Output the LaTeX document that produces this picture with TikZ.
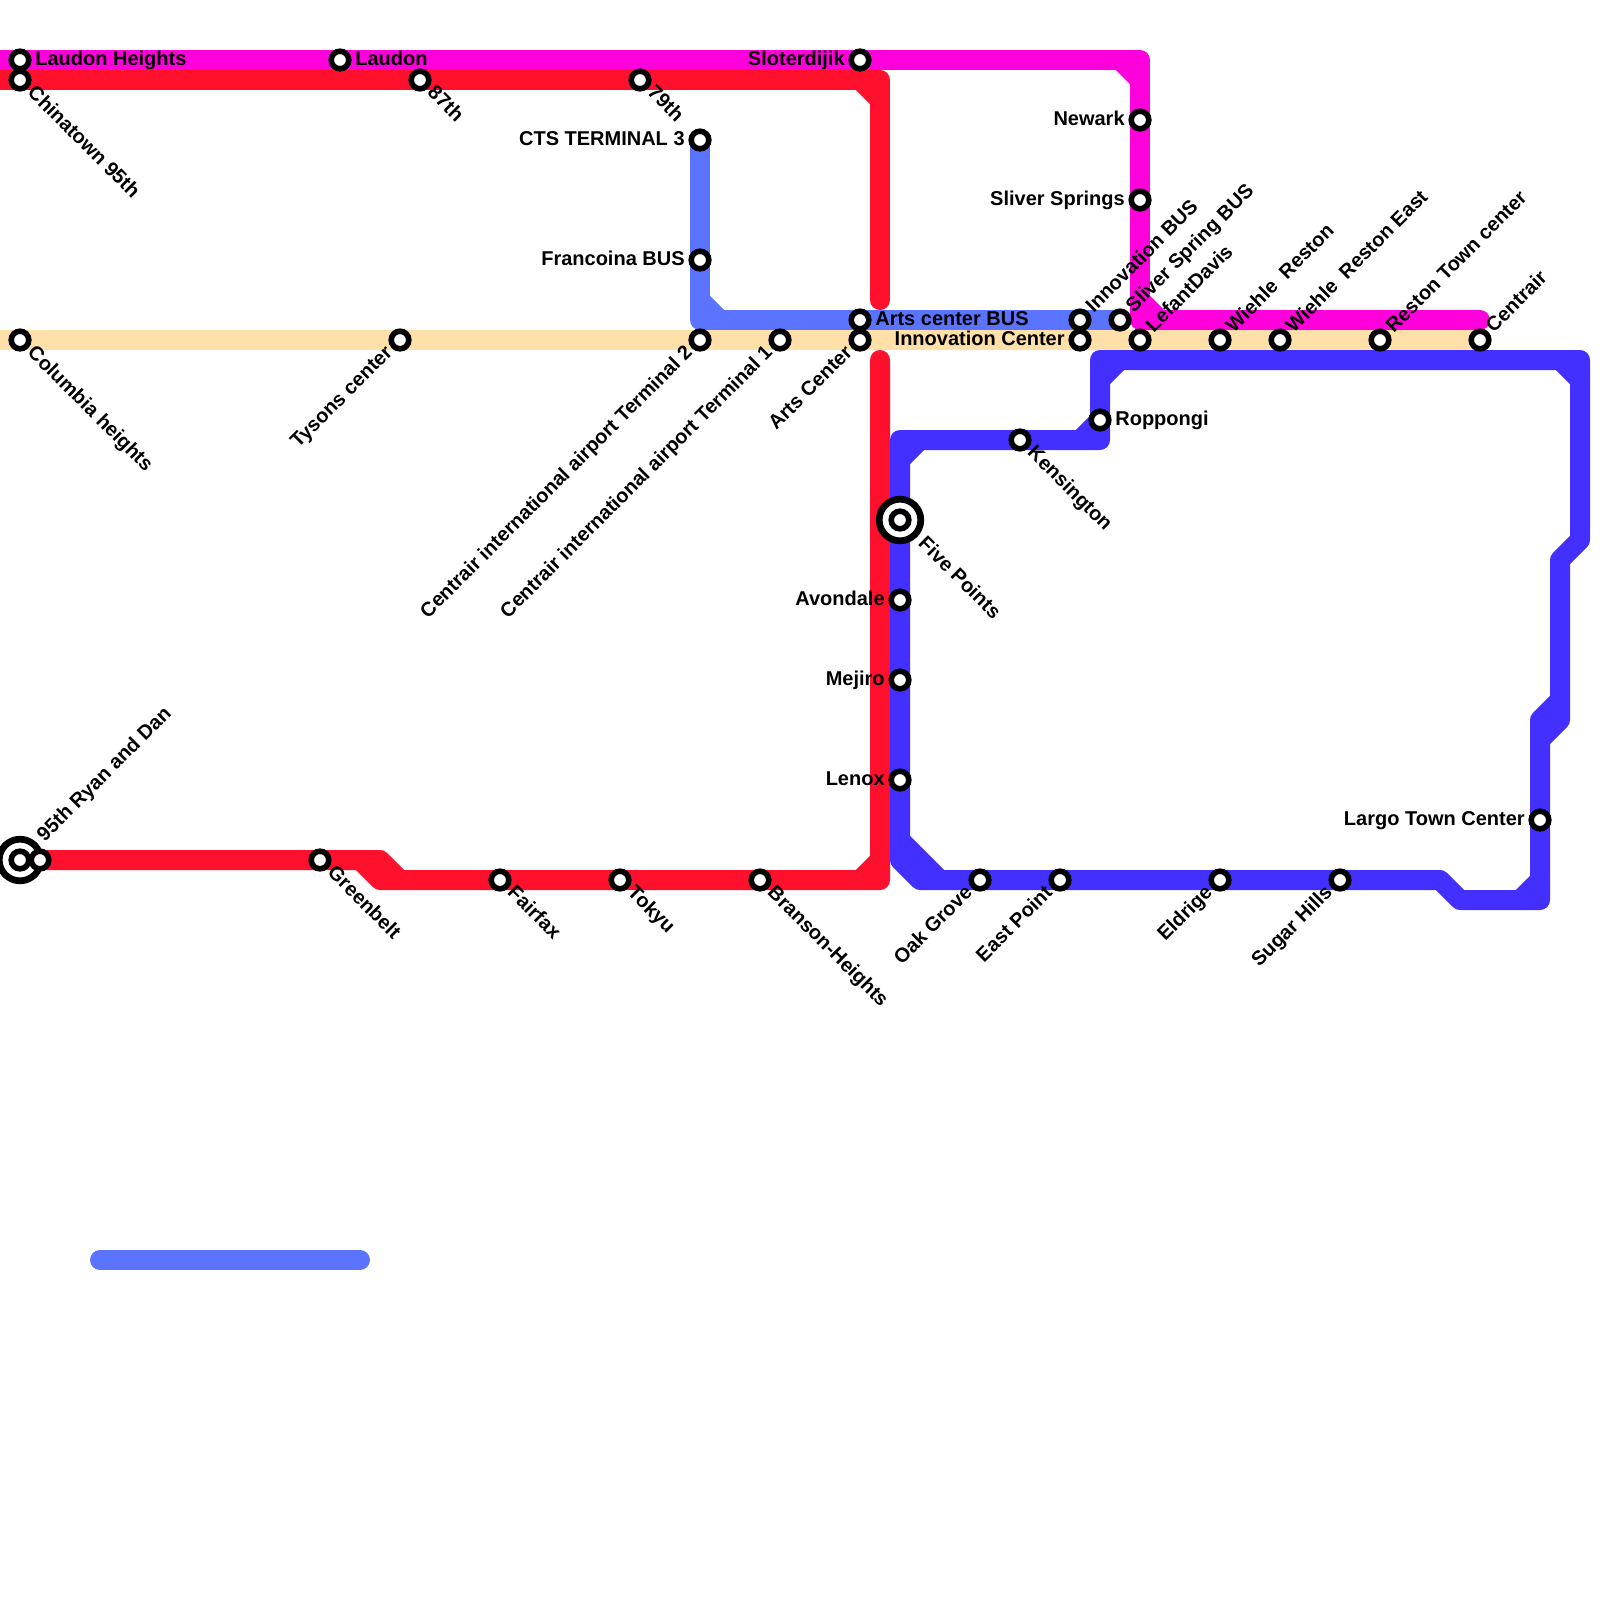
\documentclass[tikz,border=0pt]{standalone}
\usepackage{fontspec}
\setmainfont{Liberation Sans}
\usetikzlibrary{backgrounds}
\definecolor{pinkcol}{HTML}{FF00DC}
\definecolor{redcol}{HTML}{FF102C}
\definecolor{sandcol}{HTML}{FFE0A8}
\definecolor{slatecol}{HTML}{5B74FF}
\definecolor{indigocol}{HTML}{432FFF}
\tikzset{
  stn/.style={circle, draw=black, fill=white, line width=0.7mm, minimum size=2.2mm, inner sep=0pt, outer sep=0pt},
  hub/.style={circle, draw=black, fill=white, line width=0.84mm, minimum size=5.2mm, inner sep=0pt, outer sep=0pt},
  txt/.style={font=\fontsize{7.11}{8.5}\selectfont\bfseries, inner sep=0pt, text height=5.6pt, text depth=2pt},
  txtr/.style={txt, anchor=west, xshift=1.85mm},
  txtl/.style={txt, anchor=east, xshift=-1.85mm},
  txtne/.style={txt, anchor=west, rotate=45, xshift=1.75mm},
  txtse/.style={txt, anchor=west, rotate=-45, xshift=1.75mm},
  txtsw/.style={txt, anchor=east, rotate=45, xshift=-1.75mm},
  route/.style={line width=2.5mm, line cap=round, line join=round},
}
\begin{document}
\begin{tikzpicture}[x=0.25cm, y=-0.25cm]
        \useasboundingbox (0,0) rectangle (80,80);
        \node (laudonheights) [stn] at (1,3) {};
        \node (laudon) [stn] at (17,3) {};
        \node (sloterdijik) [stn] at (43,3) {};
        \node (newark) [stn] at (57,6) {};
        \node (sliversprings) [stn] at (57,10) {};
        \node (chinatown) [stn] at (1,4) {};
        \node (eightyseventh) [stn] at (21,4) {};
        \node (seventyninth) [stn] at (32,4) {};
        \node (ctsthree) [stn] at (35,7) {};
        \node (francoina) [stn] at (35,13) {};
        \node (artsbus) [stn] at (43,16) {};
        \node (innovationbus) [stn] at (54,16) {};
        \node (sliverbus) [stn] at (56,16) {};
        \node (columbia) [stn] at (1,17) {};
        \node (tysons) [stn] at (20,17) {};
        \node (termtwo) [stn] at (35,17) {};
        \node (termone) [stn] at (39,17) {};
        \node (artscenter) [stn] at (43,17) {};
        \node (innovationcenter) [stn] at (54,17) {};
        \node (lefant) [stn] at (57,17) {};
        \node (wiehle) [stn] at (61,17) {};
        \node (wiehleeast) [stn] at (64,17) {};
        \node (restontown) [stn] at (69,17) {};
        \node (centrair) [stn] at (74,17) {};
        \node (roppongi) [stn] at (55,21) {};
        \node (kensington) [stn] at (51,22) {};
        \node (fivepointsring) [hub] at (45,26) {};
        \node (fivepoints) [stn] at (45,26) {};
        \node (avondale) [stn] at (45,30) {};
        \node (mejiro) [stn] at (45,34) {};
        \node (lenox) [stn] at (45,39) {};
        \node (largo) [stn] at (77,41) {};
        \node (ryanring) [hub] at (1,43) {};
        \node (ryan) [stn] at (1,43) {};
        \node (dan) [stn] at (2,43) {};
        \node (greenbelt) [stn] at (16,43) {};
        \node (fairfax) [stn] at (25,44) {};
        \node (tokyu) [stn] at (31,44) {};
        \node (branson) [stn] at (38,44) {};
        \node (oakgrove) [stn] at (49,44) {};
        \node (eastpoint) [stn] at (53,44) {};
        \node (eldrige) [stn] at (61,44) {};
        \node (sugarhills) [stn] at (67,44) {};

        \node (laudonheightstxt) [txtr] at (laudonheights) {Laudon Heights};
        \node (laudontxt) [txtr] at (laudon) {Laudon};
        \node (sloterdijiktxt) [txtl] at (sloterdijik) {Sloterdijik};
        \node (newarktxt) [txtl] at (newark) {Newark};
        \node (sliverspringstxt) [txtl] at (sliversprings) {Sliver Springs};
        \node (chinatowntxt) [txtse] at (chinatown) {Chinatown 95th};
        \node (eightyseventhtxt) [txtse] at (eightyseventh) {87th};
        \node (seventyninthtxt) [txtse] at (seventyninth) {79th};
        \node (ctsthreetxt) [txtl] at (ctsthree) {CTS TERMINAL 3};
        \node (francoinatxt) [txtl] at (francoina) {Francoina BUS};
        \node (artsbustxt) [txtr] at (artsbus) {Arts center BUS};
        \node (innovationbustxt) [txtne] at (innovationbus) {Innovation BUS};
        \node (sliverbustxt) [txtne] at (sliverbus) {Sliver Spring BUS};
        \node (columbiatxt) [txtse] at (columbia) {Columbia heights};
        \node (tysonstxt) [txtsw] at (tysons) {Tysons center};
        \node (termtwotxt) [txtsw] at (termtwo) {Centrair international airport Terminal 2};
        \node (termonetxt) [txtsw] at (termone) {Centrair international airport Terminal 1};
        \node (artscentertxt) [txtsw] at (artscenter) {Arts Center};
        \node (innovationcentertxt) [txtl] at (innovationcenter) {Innovation Center};
        \node (lefanttxt) [txtne] at (lefant) {LefantDavis};
        \node (wiehletxt) [txtne] at (wiehle) {Wiehle\ \ Reston};
        \node (wiehleeasttxt) [txtne] at (wiehleeast) {Wiehle\ \ Reston East};
        \node (restontowntxt) [txtne] at (restontown) {Reston Town center};
        \node (centrairtxt) [txtne] at (centrair) {Centrair};
        \node (roppongitxt) [txtr] at (roppongi) {Roppongi};
        \node (kensingtontxt) [txtse] at (kensington) {Kensington};
        \node (fivepointstxt) [txtse, xshift=1.9mm] at (fivepoints) {Five Points};
        \node (avondaletxt) [txtl] at (avondale) {Avondale};
        \node (mejirotxt) [txtl] at (mejiro) {Mejiro};
        \node (lenoxtxt) [txtl] at (lenox) {Lenox};
        \node (largotxt) [txtl] at (largo) {Largo Town Center};
        \node (ryantxt) [txtne, xshift=1.95mm] at (ryan) {95th Ryan and Dan};
        \node (greenbelttxt) [txtse] at (greenbelt) {Greenbelt};
        \node (fairfaxtxt) [txtse] at (fairfax) {Fairfax};
        \node (tokyutxt) [txtse] at (tokyu) {Tokyu};
        \node (bransontxt) [txtse] at (branson) {Branson-Heights};
        \node (oakgrovetxt) [txtsw] at (oakgrove) {Oak Grove};
        \node (eastpointtxt) [txtsw] at (eastpoint) {East Point};
        \node (eldrigetxt) [txtsw] at (eldrige) {Eldrige};
        \node (sugarhillstxt) [txtsw] at (sugarhills) {Sugar Hills};

        \coordinate (pinkstart) at (-1,3);
        \coordinate (pinka) at (56,3);
        \coordinate (pinkb) at (57,3);
        \coordinate (pinkc) at (57,4);
        \coordinate (pinkd) at (57,15);
        \coordinate (pinke) at (57,16);
        \coordinate (pinkf) at (58,16);
        \coordinate (pinkend) at (74,16);
        \coordinate (redstart) at (-1,4);
        \coordinate (reda) at (43,4);
        \coordinate (redb) at (44,4);
        \coordinate (redc) at (44,5);
        \coordinate (redtopend) at (44,15);
        \coordinate (redd) at (18,43);
        \coordinate (rede) at (19,43);
        \coordinate (redf) at (19,44);
        \coordinate (redg) at (20,44);
        \coordinate (redh) at (43,44);
        \coordinate (redi) at (44,44);
        \coordinate (redj) at (44,43);
        \coordinate (redlowend) at (44,18);
        \coordinate (sandstart) at (-1,17);
        \coordinate (slatea) at (35,15);
        \coordinate (slateb) at (35,16);
        \coordinate (slatec) at (36,16);
        \coordinate (loosestart) at (5,63);
        \coordinate (looseend) at (18,63);
        \coordinate (inda) at (45,22);
        \coordinate (indb) at (45,23);
        \coordinate (indc) at (46,22);
        \coordinate (indd) at (45,42);
        \coordinate (inde) at (45,43);
        \coordinate (indf) at (46,44);
        \coordinate (indg) at (47,44);
        \coordinate (indh) at (72,44);
        \coordinate (indi) at (73,45);
        \coordinate (indj) at (76,45);
        \coordinate (indk) at (77,45);
        \coordinate (indl) at (77,44);
        \coordinate (indm) at (77,37);
        \coordinate (indn) at (77,36);
        \coordinate (indo) at (78,36);
        \coordinate (indp) at (78,35);
        \coordinate (indq) at (78,28);
        \coordinate (indr) at (79,27);
        \coordinate (inds) at (79,19);
        \coordinate (indt) at (79,18);
        \coordinate (indu) at (78,18);
        \coordinate (indv) at (56,18);
        \coordinate (indw) at (55,18);
        \coordinate (indx) at (55,19);
        \coordinate (indy) at (55,22);
        \coordinate (indz) at (54,22);

        \begin{scope}[on background layer]
        \draw [route, sandcol] (sandstart) -- (columbia.center) -- (centrair.center);
        \draw [route, slatecol] (ctsthree.center) -- (francoina.center) -- (slateb) -- (sliverbus.center);
        \draw [route, slatecol] (slatea) -- (slatec);
        \draw [route, slatecol] (loosestart) -- (looseend);
        \draw [route, pinkcol] (pinkstart) -- (laudonheights.center) -- (laudon.center) -- (sloterdijik.center) -- (pinkb) -- (newark.center) -- (sliversprings.center) -- (pinke) -- (pinkend);
        \draw [route, pinkcol] (pinka) -- (pinkc);
        \draw [route, pinkcol] (pinkd) -- (pinkf);
        \draw [route, redcol] (redstart) -- (chinatown.center) -- (eightyseventh.center) -- (seventyninth.center) -- (redb) -- (redtopend);
        \draw [route, redcol] (reda) -- (redc);
        \draw [route, redcol] (dan.center) -- (greenbelt.center) -- (rede) -- (redg) -- (fairfax.center) -- (tokyu.center) -- (branson.center) -- (redi) -- (redlowend);
        \draw [route, redcol] (redd) -- (redf) -- (redg);
        \draw [route, redcol] (redj) -- (redh);
        \draw [route, indigocol] (inda) -- (fivepoints.center) -- (avondale.center) -- (mejiro.center) -- (lenox.center) -- (inde) -- (indf) -- (indg) -- (oakgrove.center) -- (eastpoint.center) -- (eldrige.center) -- (sugarhills.center) -- (indh) -- (indi) -- (indk) -- (largo.center) -- (indm) -- (indo) -- (indq) -- (indr) -- (indt) -- (indw) -- (roppongi.center) -- (indy) -- (kensington.center) -- (inda);
        \draw [route, indigocol] (indb) -- (indc);
        \draw [route, indigocol] (indd) -- (indg);
        \draw [route, indigocol] (indj) -- (indl);
        \draw [route, indigocol] (indp) -- (indn) -- (indm);
        \draw [route, indigocol] (inds) -- (indu);
        \draw [route, indigocol] (indv) -- (indx);
        \draw [route, indigocol] (indz) -- (roppongi.center);
        \end{scope}
      \end{tikzpicture}
\end{document}
